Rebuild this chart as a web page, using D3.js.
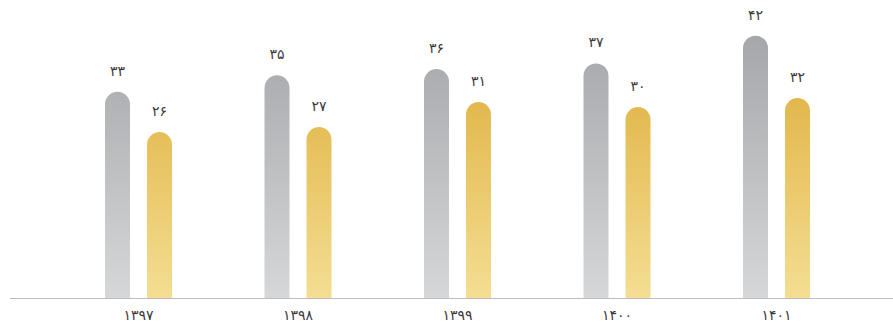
<!DOCTYPE html>
<html>
<head>
<meta charset="utf-8">
<script src="https://cdn.jsdelivr.net/npm/d3@7"></script>
<style>
  html, body { margin: 0; padding: 0; background: #ffffff; }
  svg { display: block; }
  text { font-family: "DejaVu Sans", "Noto Sans", sans-serif; fill: #3a3a3a; }
</style>
</head>
<body>
<svg id="chart" width="893" height="324"></svg>
<script>
// Data
const categories = ["۱۳۹۷", "۱۳۹۸", "۱۳۹۹", "۱۴۰۰", "۱۴۰۱"];
const seriesGray = [33.05, 35.7, 36.7, 37.6, 42.05];
const seriesGold = [26.6, 27.4, 31.4, 30.6, 32.05];
const seriesKeys = ["gray", "gold"];

const toFa = n => String(n).replace(/\d/g, d => "۰۱۲۳۴۵۶۷۸۹"[d]);

const width = 893, height = 324;
const baseY = 298;

const svg = d3.select("#chart");
const defs = svg.append("defs");

const grads = {
  gray: ["#a6a7aa", "#d6d7d9"],
  gold: ["#ddac37", "#f4de93"]
};
Object.entries(grads).forEach(([k, [top, bottom]]) => {
  const g = defs.append("linearGradient")
    .attr("id", "grad-" + k)
    .attr("gradientUnits", "userSpaceOnUse")
    .attr("x1", 0).attr("x2", 0)
    .attr("y1", 36).attr("y2", baseY);
  g.append("stop").attr("offset", "0%").attr("stop-color", top);
  g.append("stop").attr("offset", "100%").attr("stop-color", bottom);
});

const x0 = d3.scaleBand().domain(categories).range([58.75, 856.25]).paddingInner(0).paddingOuter(0);
const x1 = d3.scaleBand().domain(seriesKeys).range([-33.5, 33.5]).paddingInner(0.405).paddingOuter(0);
const y = d3.scaleLinear().domain([0, 42]).range([baseY, 36]);

const data = categories.map((c, i) => ({
  cat: c,
  vals: [{ key: "gray", v: seriesGray[i] }, { key: "gold", v: seriesGold[i] }]
}));

function barPath(x, top, w, bottom) {
  const r = w / 2;
  return `M${x},${bottom} L${x},${top + r} A${r},${r} 0 0 1 ${x + w},${top + r} L${x + w},${bottom} Z`;
}

const groups = svg.append("g").selectAll("g")
  .data(data).enter().append("g")
  .attr("transform", d => `translate(${x0(d.cat) + x0.bandwidth() / 2},0)`);

groups.selectAll("path")
  .data(d => d.vals).enter().append("path")
  .attr("d", d => barPath(x1(d.key), y(d.v), x1.bandwidth(), baseY))
  .attr("fill", d => `url(#grad-${d.key})`);

groups.selectAll("text.val")
  .data(d => d.vals).enter().append("text")
  .attr("class", "val")
  .attr("x", d => x1(d.key) + x1.bandwidth() / 2)
  .attr("y", d => y(d.v) - 16)
  .attr("text-anchor", "middle")
  .attr("font-size", 14)
  .text(d => toFa(Math.floor(d.v)));

// x axis
const axis = d3.axisBottom(x0).tickSize(0).tickPadding(12);
const axG = svg.append("g").attr("transform", `translate(0,${baseY})`).call(axis);
axG.select(".domain").remove();
axG.selectAll("text")
  .attr("font-size", 14)
  .attr("font-family", "DejaVu Sans, sans-serif")
  .attr("fill", "#3a3a3a");
svg.append("line")
  .attr("x1", 10).attr("x2", width)
  .attr("y1", baseY + 0.5).attr("y2", baseY + 0.5)
  .attr("stroke", "#bdbdbd").attr("stroke-width", 1.2);
</script>
</body>
</html>
